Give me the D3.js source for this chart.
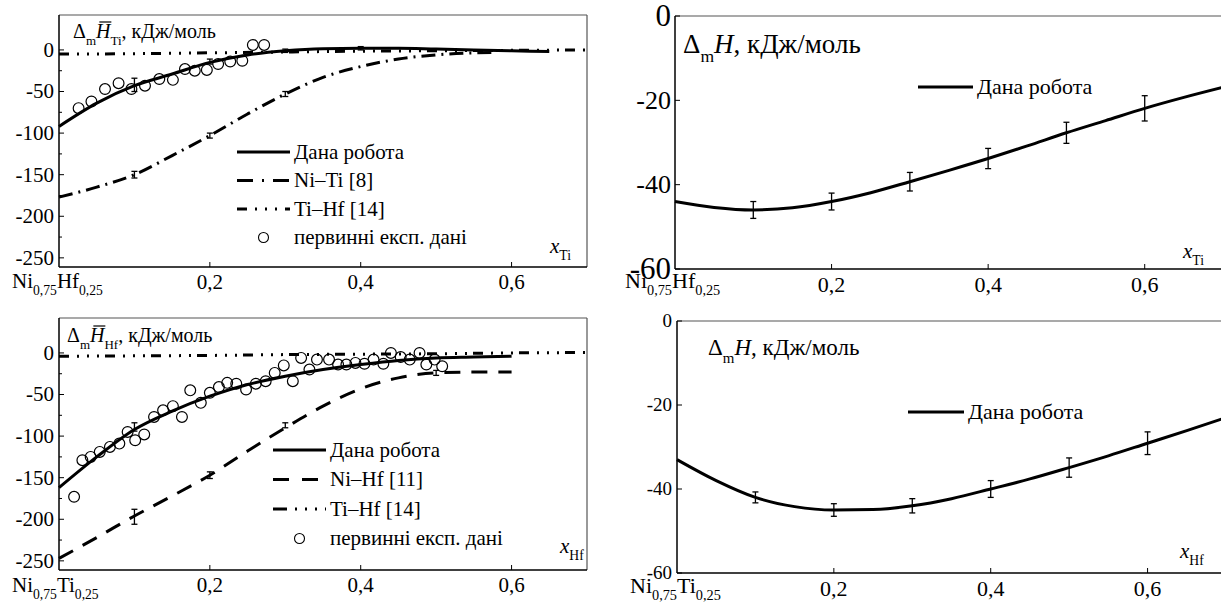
<!DOCTYPE html>
<meta charset="utf-8">
<head>
<script src="https://d3js.org/d3.v7.min.js"></script>
</head>
<body style="margin:0">
<svg id="svgid" width="1221" height="605"></svg>
<script>
// ---- data ----
// top-left: partial enthalpy of Ti
var tiWorkX = [0, 0.05, 0.1, 0.15, 0.2, 0.25, 0.3, 0.35, 0.4, 0.45, 0.5, 0.55, 0.6, 0.65];
var tiWorkY = [-92, -64, -43, -29, -15, -6, -1, 1.5, 2, 2, 1, 0, -1, -2];
var tiNiTiX = [0, 0.05, 0.1, 0.15, 0.2, 0.25, 0.3, 0.35, 0.4, 0.45, 0.5, 0.55, 0.58];
var tiNiTiY = [-177, -165, -150, -127, -103, -77, -53, -33, -20, -11, -6, -3.5, -3];
var tiTiHfX = [0, 0.1, 0.2, 0.3, 0.4, 0.5, 0.6, 0.7];
var tiTiHfY = [-5, -4.5, -3.5, -2.5, -1.5, -1, -0.5, 0];
var tiExpX = [0.026, 0.043, 0.061, 0.079, 0.096, 0.114, 0.133, 0.151, 0.167, 0.18, 0.196, 0.211, 0.227, 0.243, 0.257, 0.272];
var tiExpY = [-70, -62, -47, -40, -47, -43, -35, -36, -23, -25, -24, -17, -14, -13, 6, 6];
var tiErrX = [0.1, 0.2, 0.3, 0.4, 0.1, 0.2, 0.3];
var tiErrY = [-42, -14, -1, 2, -150, -103, -53];
var tiErrD = [8, 3, 2, 2, 4, 3, 3];

// bottom-left: partial enthalpy of Hf
var hfWorkX = [0, 0.05, 0.1, 0.15, 0.2, 0.25, 0.3, 0.35, 0.4, 0.45, 0.5, 0.55, 0.6];
var hfWorkY = [-162, -125, -92, -70, -52, -38, -28, -20, -14, -9, -6, -5, -4];
var hfNiHfX = [0, 0.05, 0.1, 0.15, 0.2, 0.25, 0.3, 0.35, 0.4, 0.45, 0.5, 0.55, 0.6];
var hfNiHfY = [-247, -222, -196, -172, -147, -118, -90, -64, -43, -30, -24, -23, -23];
var hfTiHfX = [0, 0.1, 0.2, 0.3, 0.4, 0.5, 0.6, 0.7];
var hfTiHfY = [-4, -3.5, -3, -2, -1.5, -1, 0, 0.5];
var hfExpX = [0.02, 0.031, 0.042, 0.054, 0.0675, 0.08, 0.091, 0.101, 0.113, 0.126, 0.138, 0.151, 0.163, 0.174, 0.188, 0.2, 0.212, 0.223, 0.235, 0.248, 0.261, 0.274, 0.286, 0.298, 0.31, 0.321, 0.332, 0.342, 0.358, 0.37, 0.381, 0.393, 0.405, 0.417, 0.43, 0.44, 0.453, 0.465, 0.478, 0.487, 0.498, 0.508];
var hfExpY = [-173, -129, -125, -119, -113, -109, -95, -105, -98, -77, -69, -64, -77, -45, -60, -48, -41, -36, -37, -44, -37, -34, -24, -15, -34, -6, -20, -8, -8, -14, -14, -12, -13, -8, -13, 0, -5, -8, 0, -14, -8, -16];
var hfErrX = [0.1, 0.1, 0.2, 0.3, 0.5];
var hfErrY = [-89, -197, -147, -87, -24];
var hfErrD = [5, 9, 4, 3, 3];

// top-right: integral enthalpy, section Ni0.75Hf0.25 - Ti
var hTiX = [0, 0.05, 0.1, 0.15, 0.2, 0.25, 0.3, 0.35, 0.4, 0.45, 0.5, 0.55, 0.6, 0.65, 0.7];
var hTiY = [-44, -45.4, -46, -45.5, -44, -41.9, -39.3, -36.6, -33.8, -30.8, -27.7, -24.8, -21.9, -19.3, -16.9];
var hTiErrX = [0.1, 0.2, 0.3, 0.4, 0.5, 0.6];
var hTiErrY = [-46, -44, -39.3, -33.8, -27.7, -21.9];
var hTiErrD = [2, 2, 2.2, 2.4, 2.5, 3];

// bottom-right: integral enthalpy, section Ni0.75Ti0.25 - Hf
var hHfX = [0, 0.05, 0.1, 0.15, 0.2, 0.25, 0.3, 0.35, 0.4, 0.45, 0.5, 0.55, 0.6, 0.65, 0.7];
var hHfY = [-33, -38, -42, -44.2, -45, -44.9, -44, -42.3, -40, -37.6, -34.9, -32.1, -29.1, -26.1, -23];
var hHfErrX = [0.1, 0.2, 0.3, 0.4, 0.5, 0.6];
var hHfErrY = [-42, -45, -44, -40, -34.9, -29.1];
var hHfErrD = [1.3, 1.5, 1.7, 2, 2.3, 2.7];

var xTicks = [0.2, 0.4, 0.6];
var leftTicks = [0, -50, -100, -150, -200, -250];
var leftMinor = [-25, -75, -125, -175, -225];
var rightTicks = [0, -20, -40, -60];

var svg = d3.select("#svgid");

function zip(xs, ys) { return xs.map(function (x, i) { return [x, ys[i]]; }); }

// every text goes straight into the svg, serif set on the node itself
function label(x, y, size, str, anchor) {
  return svg.append("text").attr("x", x).attr("y", y)
    .style("font-family", "'Liberation Serif'").style("font-size", size + "px")
    .attr("text-anchor", anchor || "start").text(str);
}

// text made of pieces, some of them subscripts
function rich(x, y, size, parts) {
  var t = svg.append("text").attr("x", x).attr("y", y)
    .style("font-family", "'Liberation Serif'").style("font-size", size + "px");
  var shift = 0;
  parts.forEach(function (p) {
    var s = t.append("tspan").text(p.t);
    var want = p.sub ? size * 0.33 : 0;
    s.attr("dy", want - shift);
    shift = want;
    if (p.sub) s.style("font-size", (size * 0.65) + "px");
    if (p.it) s.style("font-style", "italic");
  });
  return t;
}

function seg(g, x1, y1, x2, y2, col, w) {
  g.append("line").attr("x1", x1).attr("y1", y1).attr("x2", x2).attr("y2", y2)
    .attr("stroke", col).attr("stroke-width", w);
}

function panel(c) {
  var g = svg.append("g");
  var x = d3.scaleLinear().domain([0, 0.7]).range([c.left, c.right]);
  var y = d3.scaleLinear().domain(c.ydom).range([c.bottom, c.top]);

  // frame and axes
  seg(g, c.left, c.top, c.right, c.top, "#555", 1.2);
  seg(g, c.right, c.top, c.right, c.bottom, "#555", 1.2);
  seg(g, c.left, c.top, c.left, c.bottom, "#000", 1.5);
  seg(g, c.left, c.bottom, c.right, c.bottom, "#000", 1.5);

  g.selectAll(".yt").data(c.yticks).enter().append("line")
    .attr("x1", c.left).attr("x2", c.left + 5)
    .attr("y1", function (d) { return y(d); }).attr("y2", function (d) { return y(d); })
    .attr("stroke", "#000");
  if (c.minor) {
    g.selectAll(".mn").data(c.minor).enter().append("line")
      .attr("x1", c.left).attr("x2", c.left + 3)
      .attr("y1", function (d) { return y(d); }).attr("y2", function (d) { return y(d); })
      .attr("stroke", "#000");
  }
  g.selectAll(".xt").data(xTicks).enter().append("line")
    .attr("x1", function (d) { return x(d); }).attr("x2", function (d) { return x(d); })
    .attr("y1", c.bottom).attr("y2", c.bottom - 5)
    .attr("stroke", "#000");

  c.yticks.forEach(function (d) {
    var fs = c.ybig && (d === 0 || d === -60) ? c.ybig : c.yfont;
    label(c.left - c.ypad, y(d) + fs * 0.33, fs, String(d), "end");
  });
  xTicks.forEach(function (d) {
    label(x(d), c.bottom + c.xpad + c.xfont * 0.75, c.xfont, d3.format(".1f")(d).replace(".", ","), "middle");
  });

  var line = d3.line().x(function (d) { return x(d[0]); }).y(function (d) { return y(d[1]); }).curve(d3.curveMonotoneX);

  c.series.forEach(function (s) {
    g.append("path").attr("d", line(s.pts)).attr("fill", "none").attr("stroke", "#000")
      .attr("stroke-width", s.w).attr("stroke-dasharray", s.dash || null);
  });

  if (c.exp) {
    g.selectAll(".pt").data(c.exp).enter().append("circle")
      .attr("cx", function (d) { return x(d[0]); }).attr("cy", function (d) { return y(d[1]); })
      .attr("r", 5.4).attr("fill", "none").attr("stroke", "#000").attr("stroke-width", 1.2);
  }

  c.err.forEach(function (e) {
    var cx = x(e[0]), y1 = y(e[1] - e[2]), y2 = y(e[1] + e[2]);
    seg(g, cx, y1, cx, y2, "#000", 1.3);
    seg(g, cx - 3, y1, cx + 3, y1, "#000", 1.3);
    seg(g, cx - 3, y2, cx + 3, y2, "#000", 1.3);
  });

  // legend
  c.legend.forEach(function (l, i) {
    var ly = c.leg.y + i * c.leg.dy;
    if (l.circle) {
      g.append("circle").attr("cx", (c.leg.x0 + c.leg.x1) / 2).attr("cy", ly).attr("r", 5)
        .attr("fill", "none").attr("stroke", "#000").attr("stroke-width", 1.1);
    } else {
      g.append("line").attr("x1", c.leg.x0).attr("x2", c.leg.x1).attr("y1", ly).attr("y2", ly)
        .attr("stroke", "#000").attr("stroke-width", l.w).attr("stroke-dasharray", l.dash || null);
    }
    label(c.leg.x1 + 4, ly + c.leg.font * 0.32, c.leg.font, l.label);
  });

  // title; the partial quantities get a bar over H
  var tp = [{ t: "Δ" }, { t: "m", sub: true }, { t: "H", it: true }];
  if (c.comp) tp.push({ t: c.comp, sub: true });
  tp.push({ t: ", кДж/моль" });
  rich(c.title[0], c.title[1], c.title[2], tp);
  if (c.comp) {
    var s = c.title[2], bx = c.title[0] + s * 0.612 + s * 0.65 * 0.778;
    var by = c.title[1] - s * 0.8;
    seg(g, bx + s * 0.2, by, bx + s * 0.8, by, "#000", 1.2);
  }

  rich(c.xlab[0], c.xlab[1], c.xlab[2], [{ t: "x", it: true }, { t: c.xel, sub: true }]);
  rich(c.base[0], c.base[1], c.base[2], [{ t: "Ni" }, { t: "0,75", sub: true }, { t: c.base[3] }, { t: "0,25", sub: true }]);
}

var dashDot = "14,6,2,6";
var dashDots = "10,8,2,8,2,8,2,6";
var dashed = "16,11";

panel({
  left: 59, right: 587, top: 15, bottom: 267, ydom: [-261, 42],
  yticks: leftTicks, minor: leftMinor, yfont: 21, xfont: 21, xpad: 6, ypad: 5,
  series: [
    { pts: zip(tiWorkX, tiWorkY), w: 3 },
    { pts: zip(tiNiTiX, tiNiTiY), w: 3, dash: dashDot },
    { pts: zip(tiTiHfX, tiTiHfY), w: 3, dash: dashDots }
  ],
  exp: zip(tiExpX, tiExpY),
  err: tiErrX.map(function (v, i) { return [v, tiErrY[i], tiErrD[i]]; }),
  leg: { x0: 237, x1: 290, y: 152, dy: 28.5, font: 21 },
  legend: [
    { label: "Дана робота", w: 3 },
    { label: "Ni–Ti [8]", w: 3, dash: "16,9,2,9" },
    { label: "Ti–Hf [14]", w: 3, dash: "10,8,2,8,2,8,2,8" },
    { label: "первинні експ. дані", circle: true }
  ],
  title: [73, 38, 20], comp: "Ti",
  xlab: [550, 253, 21], xel: "Ti",
  base: [12, 288, 21, "Hf"]
});

panel({
  left: 59, right: 587, top: 318, bottom: 570, ydom: [-261, 42],
  yticks: leftTicks, minor: leftMinor, yfont: 21, xfont: 21, xpad: 6, ypad: 5,
  series: [
    { pts: zip(hfWorkX, hfWorkY), w: 3 },
    { pts: zip(hfNiHfX, hfNiHfY), w: 3, dash: dashed },
    { pts: zip(hfTiHfX, hfTiHfY), w: 3, dash: dashDots }
  ],
  exp: zip(hfExpX, hfExpY),
  err: hfErrX.map(function (v, i) { return [v, hfErrY[i], hfErrD[i]]; }),
  leg: { x0: 273, x1: 326, y: 450, dy: 29.5, font: 21 },
  legend: [
    { label: "Дана робота", w: 3 },
    { label: "Ni–Hf [11]", w: 3, dash: "16,13" },
    { label: "Ti–Hf [14]", w: 3, dash: "14,8,2,8,2,8,2,8" },
    { label: "первинні експ. дані", circle: true }
  ],
  title: [67, 342, 20], comp: "Hf",
  xlab: [560, 553, 21], xel: "Hf",
  base: [12, 592, 21, "Ti"]
});

panel({
  left: 675, right: 1223, top: 16, bottom: 269, ydom: [-60, 0],
  yticks: rightTicks, yfont: 26, ybig: 31, xfont: 22, xpad: 6, ypad: 4,
  series: [{ pts: zip(hTiX, hTiY), w: 3 }],
  err: hTiErrX.map(function (v, i) { return [v, hTiErrY[i], hTiErrD[i]]; }),
  leg: { x0: 918, x1: 973, y: 87, dy: 0, font: 22 },
  legend: [{ label: "Дана робота", w: 3 }],
  title: [683, 53, 27],
  xlab: [1183, 258, 21], xel: "Ti",
  base: [625, 288, 22, "Hf"]
});

panel({
  left: 677, right: 1226, top: 321, bottom: 573, ydom: [-60, 0],
  yticks: rightTicks, yfont: 19, xfont: 22, xpad: 6, ypad: 5,
  series: [{ pts: zip(hHfX, hHfY), w: 3 }],
  err: hHfErrX.map(function (v, i) { return [v, hHfErrY[i], hHfErrD[i]]; }),
  leg: { x0: 908, x1: 964, y: 412, dy: 0, font: 22 },
  legend: [{ label: "Дана робота", w: 3 }],
  title: [708, 355, 23],
  xlab: [1180, 558, 21], xel: "Hf",
  base: [630, 593, 22, "Ti"]
});
</script>
</body>
